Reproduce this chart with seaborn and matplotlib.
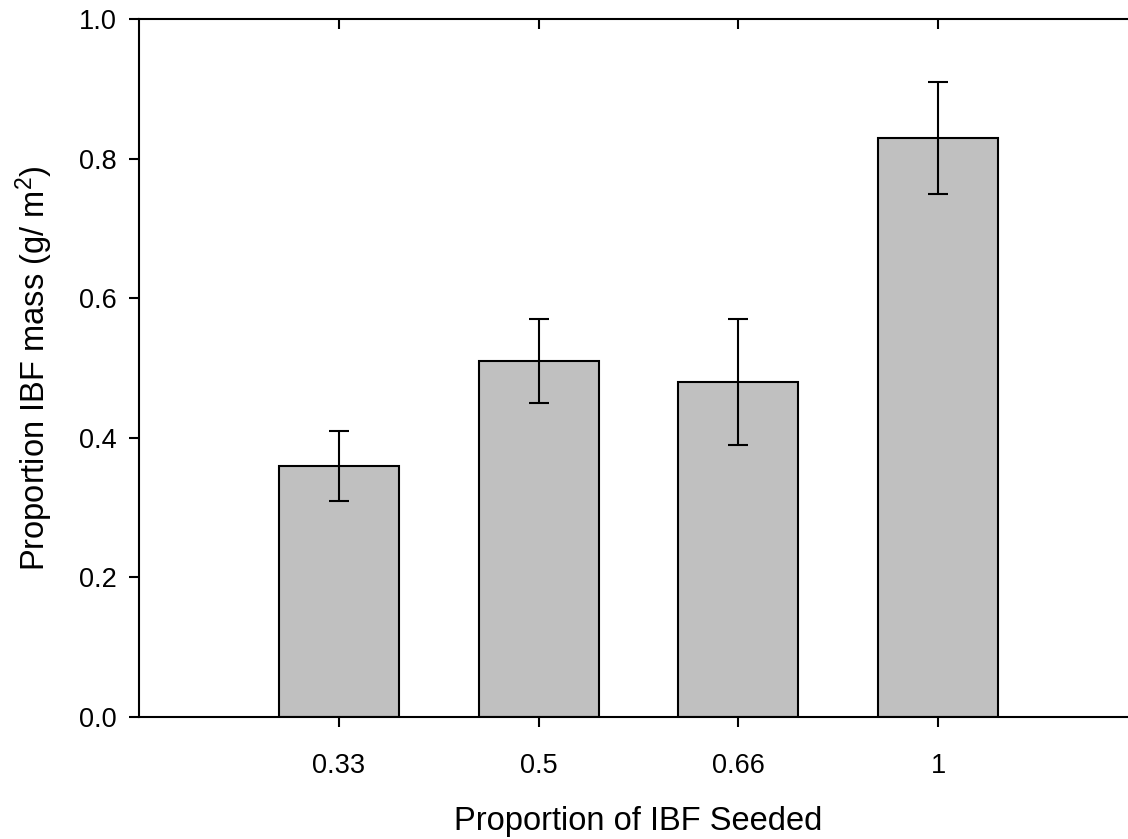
import numpy as np
import pandas as pd
import matplotlib
matplotlib.use("Agg")
import matplotlib.pyplot as plt
import seaborn as sns

categories = ["0.33", "0.5", "0.66", "1"]
means = [0.36, 0.51, 0.48, 0.83]
errors = [0.05, 0.06, 0.09, 0.08]
yticks = [0.0, 0.2, 0.4, 0.6, 0.8, 1.0]
ytick_labels = ["0.0", "0.2", "0.4", "0.6", "0.8", "1.0"]

sns.set_style("ticks")
plt.rcParams["font.family"] = ["Liberation Sans", "DejaVu Sans"]
plt.rcParams["mathtext.fontset"] = "custom"
plt.rcParams["mathtext.rm"] = "Liberation Sans"
plt.rcParams["mathtext.it"] = "Liberation Sans:italic"
plt.rcParams["text.color"] = "black"
plt.rcParams["axes.labelcolor"] = "black"
plt.rcParams["xtick.color"] = "black"
plt.rcParams["ytick.color"] = "black"

df = pd.DataFrame({"cat": categories, "val": means})

fig = plt.figure(figsize=(11.28, 8.39), dpi=100)
ax = fig.add_axes([139/1128, 122/839, 999/1128, 698/839])

sns.barplot(data=df, x="cat", y="val", order=categories, color="#c0c0c0",
            saturation=1, width=0.6, edgecolor="black", linewidth=1.5,
            errorbar=None, ax=ax)
ax.errorbar(np.arange(len(categories)), means, yerr=errors, fmt="none",
            ecolor="black", elinewidth=1.5, capsize=7.5, capthick=1.5, zorder=5)

ax.set_xlim(-1, 4)
ax.set_ylim(0, 1.0)
ax.set_yticks(yticks)
ax.set_yticklabels(ytick_labels)

for s in ax.spines.values():
    s.set_linewidth(1.5)
    s.set_color("black")

ax.tick_params(axis="both", direction="out", length=7.2, width=1.5,
               labelsize=19.5, colors="black")
ax.tick_params(axis="x", pad=19)
ax.tick_params(axis="y", pad=9)

ax2 = ax.twiny()
ax2.set_xlim(ax.get_xlim())
ax2.set_xticks(np.arange(len(categories)))
ax2.tick_params(axis="x", direction="in", length=7.2, width=1.5, labeltop=False)
for s in ax2.spines.values():
    s.set_visible(False)

ax.set_xlabel("Proportion of IBF Seeded", fontsize=23.5, labelpad=19)
ax.set_ylabel("Proportion IBF mass (g/ m$^2$)", fontsize=23.5, labelpad=17)

fig.savefig("out.png", dpi=100)
